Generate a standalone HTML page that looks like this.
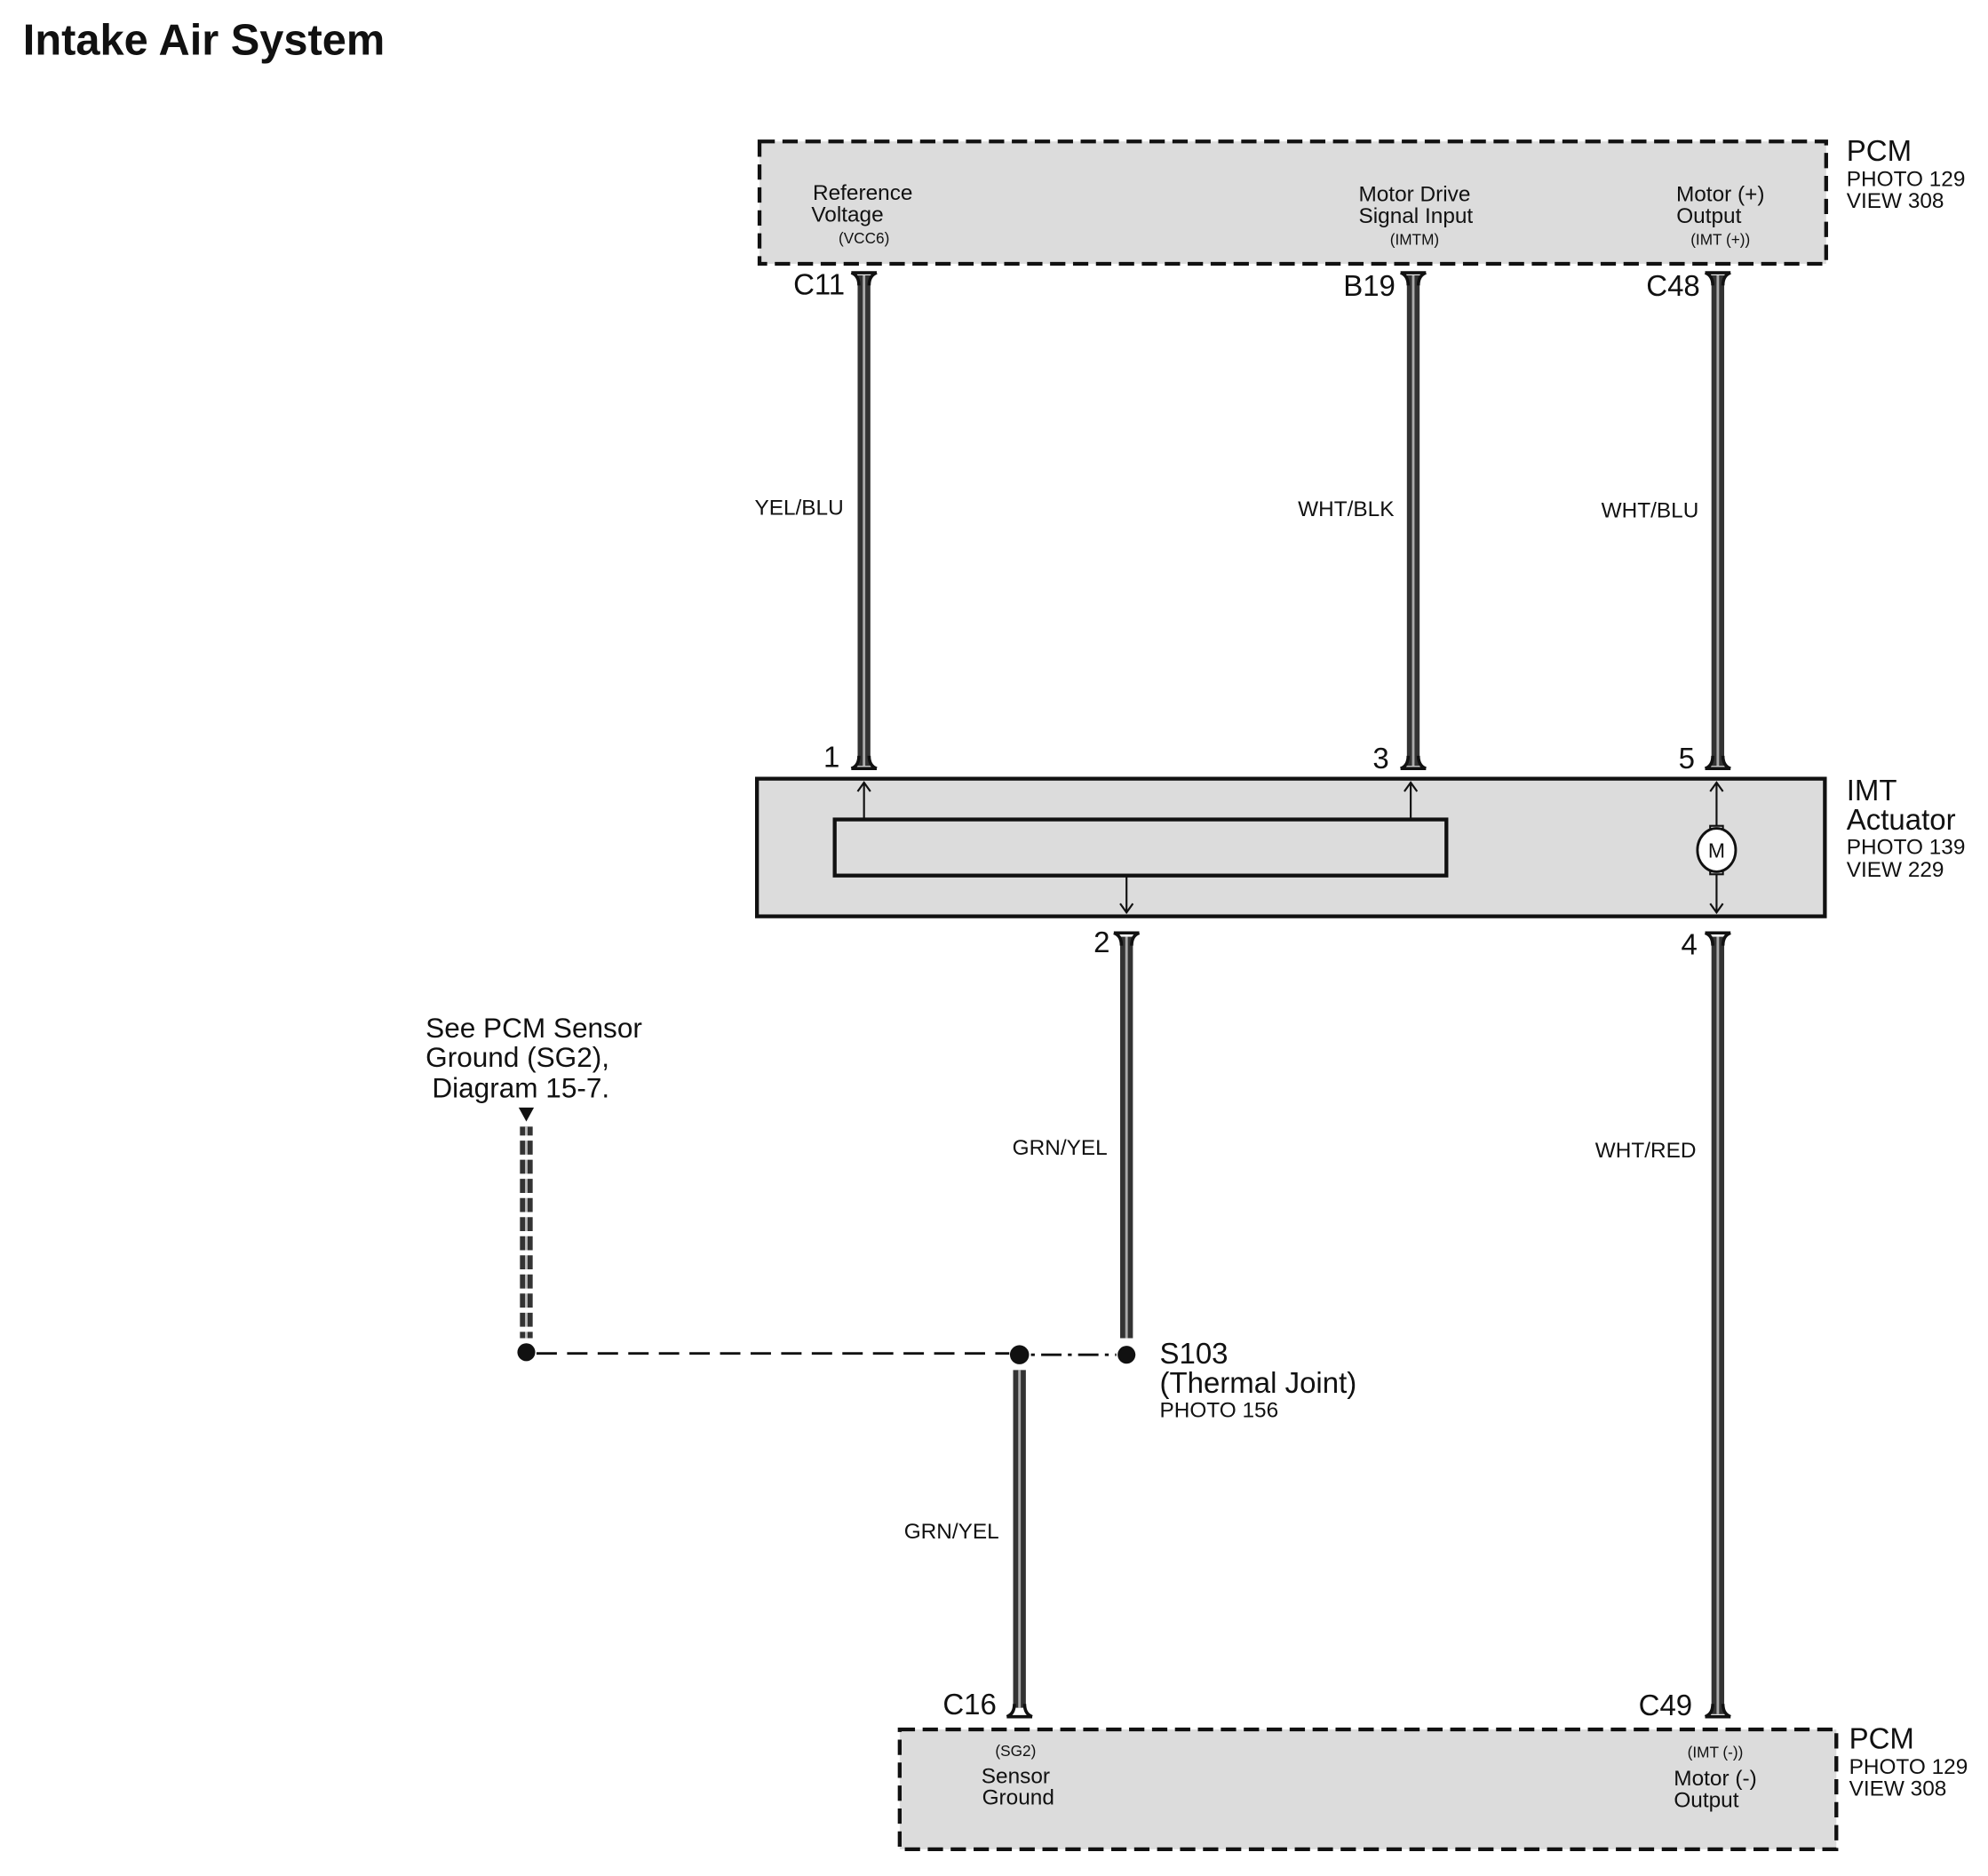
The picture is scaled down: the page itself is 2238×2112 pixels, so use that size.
<!DOCTYPE html>
<html><head><meta charset="utf-8"><style>
html,body{margin:0;padding:0;background:#fff;}
svg{display:block;}
text{font-family:"Liberation Sans",Arial,sans-serif;fill:#111;}
</style></head><body>
<svg width="2238" height="2112" viewBox="0 0 1560 1472" preserveAspectRatio="none" xmlns="http://www.w3.org/2000/svg">
<text x="18" y="43" font-size="34" font-weight="bold">Intake Air System</text>

<!-- top PCM -->
<rect x="596" y="111" width="837" height="96" fill="#dcdcdc" stroke="#111" stroke-width="3" stroke-dasharray="12,6"/>
<g font-size="17" text-anchor="middle">
<text x="677" y="157">Reference</text><text x="665" y="174">Voltage</text><text x="678" y="191" font-size="12">(VCC6)</text>
<text x="1110" y="158">Motor Drive</text><text x="1111" y="175">Signal Input</text><text x="1110" y="192" font-size="12">(IMTM)</text>
<text x="1350" y="158">Motor (+)</text><text x="1341" y="175">Output</text><text x="1350" y="192" font-size="12">(IMT (+))</text>
</g>
<text x="1449" y="126" font-size="23">PCM</text>
<text x="1449" y="146" font-size="17">PHOTO 129</text>
<text x="1449" y="163" font-size="17">VIEW 308</text>

<!-- top wires -->
<g>
<rect x="673" y="216" width="10" height="385" fill="#333"/><rect x="677" y="216" width="2" height="385" fill="#aaa"/>
<rect x="1104" y="216" width="10" height="385" fill="#333"/><rect x="1108" y="216" width="2" height="385" fill="#aaa"/>
<rect x="1343" y="216" width="10" height="385" fill="#333"/><rect x="1347" y="216" width="2" height="385" fill="#aaa"/>
</g>
<g fill="none" stroke="#111" stroke-width="2.5">
<path d="M668 214 Q674 216 674 224 M688 214 Q682 216 682 224 M668 214 H688"/>
<path d="M1099 214 Q1105 216 1105 224 M1119 214 Q1113 216 1113 224 M1099 214 H1119"/>
<path d="M1338 214 Q1344 216 1344 224 M1358 214 Q1352 216 1352 224 M1338 214 H1358"/>
<path d="M668 603 Q674 601 674 593 M688 603 Q682 601 682 593 M668 603 H688"/>
<path d="M1099 603 Q1105 601 1105 593 M1119 603 Q1113 601 1113 593 M1099 603 H1119"/>
<path d="M1338 603 Q1344 601 1344 593 M1358 603 Q1352 601 1352 593 M1338 603 H1358"/>
</g>
<g font-size="23" text-anchor="end">
<text x="663" y="231">C11</text><text x="1095" y="232">B19</text><text x="1334" y="232">C48</text>
<text x="659" y="602">1</text><text x="1090" y="603">3</text><text x="1330" y="603">5</text>
<text x="871" y="747">2</text><text x="1332" y="749">4</text>
<text x="782" y="1345">C16</text><text x="1328" y="1346">C49</text>
</g>
<g font-size="17" text-anchor="end">
<text x="662" y="404">YEL/BLU</text><text x="1094" y="405">WHT/BLK</text><text x="1333" y="406">WHT/BLU</text>
<text x="869" y="906">GRN/YEL</text><text x="1331" y="908">WHT/RED</text><text x="784" y="1207">GRN/YEL</text>
</g>

<!-- IMT actuator -->
<rect x="594" y="611" width="838" height="108" fill="#dcdcdc" stroke="#111" stroke-width="3"/>
<rect x="655" y="643" width="480" height="44" fill="#dcdcdc" stroke="#111" stroke-width="3"/>
<g stroke="#111" stroke-width="1.5" fill="none">
<path d="M678 642 V614 M673 621 L678 614 L683 621"/>
<path d="M1107 642 V614 M1102 621 L1107 614 L1112 621"/>
<path d="M884 688 V716 M879 709 L884 716 L889 709"/>
<path d="M1347 614 V650 M1347 682 V716 M1342 621 L1347 614 L1352 621 M1342 709 L1347 716 L1352 709"/>
</g>
<rect x="1342" y="648" width="10" height="6" fill="#fff" stroke="#111" stroke-width="1.5"/>
<rect x="1342" y="680" width="10" height="6" fill="#fff" stroke="#111" stroke-width="1.5"/>
<ellipse cx="1347" cy="667" rx="15" ry="17" fill="#fff" stroke="#111" stroke-width="2"/>
<text x="1347" y="673" font-size="16" text-anchor="middle">M</text>
<text x="1449" y="628" font-size="23">IMT</text>
<text x="1449" y="651" font-size="23">Actuator</text>
<text x="1449" y="670" font-size="17">PHOTO 139</text>
<text x="1449" y="688" font-size="17">VIEW 229</text>

<!-- lower wires -->
<rect x="879" y="735" width="10" height="315" fill="#333"/><rect x="883" y="735" width="2" height="315" fill="#aaa"/>
<rect x="1343" y="735" width="10" height="610" fill="#333"/><rect x="1347" y="735" width="2" height="610" fill="#aaa"/>
<rect x="795" y="1075" width="10" height="265" fill="#333"/><rect x="799" y="1075" width="2" height="265" fill="#aaa"/>
<g fill="none" stroke="#111" stroke-width="2.5">
<path d="M874 732 Q880 734 880 742 M894 732 Q888 734 888 742 M874 732 H894"/>
<path d="M1338 732 Q1344 734 1344 742 M1358 732 Q1352 734 1352 742 M1338 732 H1358"/>
<path d="M790 1347 Q796 1345 796 1337 M810 1347 Q804 1345 804 1337 M790 1347 H810"/>
<path d="M1338 1347 Q1344 1345 1344 1337 M1358 1347 Q1352 1345 1352 1337 M1338 1347 H1358"/>
</g>

<!-- ground dashed wire -->
<text x="334" y="814" font-size="22">See PCM Sensor</text>
<text x="334" y="837" font-size="22">Ground (SG2),</text>
<text x="339" y="861" font-size="22">Diagram 15-7.</text>
<path d="M407 869 H419 L413 880 Z" fill="#111"/>
<g>
<rect x="408" y="884" width="10" height="166" fill="#333"/>
<rect x="412" y="884" width="2" height="166" fill="#bbb"/>
<path d="M405 893 H421 M405 908 H421 M405 923 H421 M405 938 H421 M405 953 H421 M405 968 H421 M405 983 H421 M405 998 H421 M405 1013 H421 M405 1028 H421 M405 1043 H421" stroke="#fff" stroke-width="4"/>
</g>
<path d="M421 1062 H792" stroke="#111" stroke-width="2" stroke-dasharray="16,8"/>
<path d="M809 1063 H876" stroke="#111" stroke-width="2" stroke-dasharray="3,5,16,5"/>
<circle cx="413" cy="1061" r="7" fill="#111"/>
<circle cx="800" cy="1063" r="7.5" fill="#111"/>
<circle cx="884" cy="1063" r="7" fill="#111"/>
<text x="910" y="1070" font-size="23">S103</text>
<text x="910" y="1093" font-size="23">(Thermal Joint)</text>
<text x="910" y="1112" font-size="17">PHOTO 156</text>

<!-- bottom PCM -->
<rect x="706" y="1357" width="735" height="94" fill="#dcdcdc" stroke="#111" stroke-width="3" stroke-dasharray="12,6"/>
<g font-size="17" text-anchor="middle">
<text x="797" y="1378" font-size="12">(SG2)</text><text x="797" y="1399">Sensor</text><text x="799" y="1416">Ground</text>
<text x="1346" y="1379" font-size="12">(IMT (-))</text><text x="1346" y="1401">Motor (-)</text><text x="1339" y="1418">Output</text>
</g>
<text x="1451" y="1372" font-size="23">PCM</text>
<text x="1451" y="1392" font-size="17">PHOTO 129</text>
<text x="1451" y="1409" font-size="17">VIEW 308</text>
</svg>
</body></html>
